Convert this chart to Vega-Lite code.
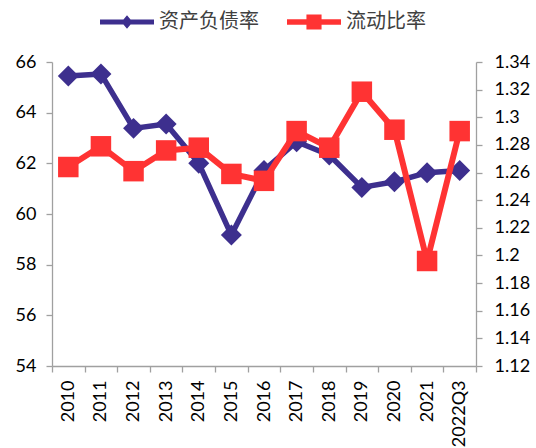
{
  "$schema": "https://vega.github.io/schema/vega-lite/v6.json",
  "width": 424,
  "height": 304,
  "autosize": {"type": "none"},
  "padding": {"left": 52, "top": 62, "right": 60, "bottom": 82},
  "background": "white",
  "config": {
    "view": {"stroke": null},
    "font": "Lato",
    "axis": {"labelFont": "Lato", "labelFontSize": 18, "labelColor": "#000000", "domainColor": "#A0A0A0", "tickColor": "#A0A0A0", "domainWidth": 1.3, "tickWidth": 1.3, "tickSize": 6, "grid": false, "title": null}
  },
  "data": {
    "values": [
      {"year": "2010", "series": "资产负债率", "value": 65.45},
      {"year": "2011", "series": "资产负债率", "value": 65.53},
      {"year": "2012", "series": "资产负债率", "value": 63.38},
      {"year": "2013", "series": "资产负债率", "value": 63.55},
      {"year": "2014", "series": "资产负债率", "value": 62.0},
      {"year": "2015", "series": "资产负债率", "value": 59.17},
      {"year": "2016", "series": "资产负债率", "value": 61.72},
      {"year": "2017", "series": "资产负债率", "value": 62.85},
      {"year": "2018", "series": "资产负债率", "value": 62.33},
      {"year": "2019", "series": "资产负债率", "value": 61.05},
      {"year": "2020", "series": "资产负债率", "value": 61.27},
      {"year": "2021", "series": "资产负债率", "value": 61.63},
      {"year": "2022Q3", "series": "资产负债率", "value": 61.72},
      {"year": "2010", "series": "流动比率", "value": 1.264},
      {"year": "2011", "series": "流动比率", "value": 1.279},
      {"year": "2012", "series": "流动比率", "value": 1.261},
      {"year": "2013", "series": "流动比率", "value": 1.276},
      {"year": "2014", "series": "流动比率", "value": 1.278},
      {"year": "2015", "series": "流动比率", "value": 1.259},
      {"year": "2016", "series": "流动比率", "value": 1.254},
      {"year": "2017", "series": "流动比率", "value": 1.29},
      {"year": "2018", "series": "流动比率", "value": 1.278},
      {"year": "2019", "series": "流动比率", "value": 1.3185},
      {"year": "2020", "series": "流动比率", "value": 1.291},
      {"year": "2021", "series": "流动比率", "value": 1.196},
      {"year": "2022Q3", "series": "流动比率", "value": 1.29}
    ]
  },
  "encoding": {
    "x": {
      "field": "year",
      "type": "ordinal",
      "sort": null,
      "scale": {"paddingInner": 0, "paddingOuter": 0},
      "axis": {"labelAngle": 270, "tickBand": "extent", "labelPadding": 8, "domainWidth": 1.3}
    }
  },
  "layer": [
    {
      "transform": [{"filter": "datum.series === '资产负债率'"}],
      "encoding": {
        "y": {
          "field": "value",
          "type": "quantitative",
          "scale": {"domain": [54, 66], "nice": false, "zero": false},
          "axis": {"orient": "left", "values": [54, 56, 58, 60, 62, 64, 66], "labelPadding": 10}
        }
      },
      "layer": [
        {"mark": {"type": "line", "color": "#3D2F8E", "strokeWidth": 5.5, "strokeJoin": "round", "strokeCap": "round"}},
        {
          "mark": {"type": "point", "shape": "diamond", "filled": true, "size": 440, "opacity": 1},
          "encoding": {
            "color": {
              "field": "series",
              "type": "nominal",
              "sort": null,
              "scale": {"domain": ["资产负债率", "流动比率"], "range": ["#3D2F8E", "#FF3333"]},
              "legend": {
                "orient": "none",
                "direction": "horizontal",
                "legendX": 48,
                "legendY": -67,
                "title": null,
                "labelFont": "Noto Sans CJK SC",
                "labelFontSize": 20,
                "labelColor": "#404040",
                "labelOffset": 5,
                "columnPadding": 28,
                "symbolSize": 2916,
                "symbolOpacity": 1,
                "symbolStrokeWidth": 0,
                "encode": {
                  "symbols": {
                    "update": {
                      "shape": {"signal": "datum.value === '资产负债率' ? 'M-1,-0.09L1,-0.09L1,0.09L-1,0.09Z M0,-0.25L0.21,0L0,0.25L-0.21,0Z' : 'M-1,-0.1L1,-0.1L1,0.1L-1,0.1Z M-0.28,-0.28L0.28,-0.28L0.28,0.28L-0.28,0.28Z'"}
                    }
                  }
                }
              }
            }
          }
        }
      ]
    },
    {
      "transform": [{"filter": "datum.series === '流动比率'"}],
      "encoding": {
        "y": {
          "field": "value",
          "type": "quantitative",
          "scale": {"domain": [1.12, 1.34], "nice": false, "zero": false},
          "axis": {"orient": "right", "values": [1.12, 1.14, 1.16, 1.18, 1.2, 1.22, 1.24, 1.26, 1.28, 1.3, 1.32, 1.34], "format": "~g", "labelPadding": 12}
        }
      },
      "layer": [
        {"mark": {"type": "line", "color": "#FF3333", "strokeWidth": 6, "strokeJoin": "round", "strokeCap": "round"}},
        {
          "mark": {"type": "point", "shape": "square", "filled": true, "size": 420, "opacity": 1},
          "encoding": {
            "color": {"field": "series", "type": "nominal", "sort": null}
          }
        }
      ]
    }
  ],
  "resolve": {"scale": {"y": "independent"}}
}
